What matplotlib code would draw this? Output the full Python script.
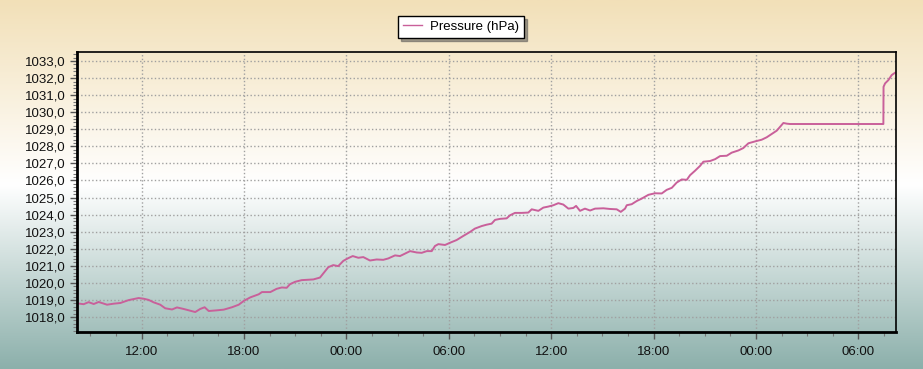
import numpy as np
import matplotlib
matplotlib.use('Agg')
import matplotlib.pyplot as plt
from matplotlib.ticker import MultipleLocator, FixedLocator

# =============================================================================
# Pressure readings, hours counted from midnight of the first day
# =============================================================================
hours = [
    8.21, 8.60, 8.89, 9.19, 9.48, 9.97, 10.36, 10.75, 11.24, 11.82,
    12.12, 12.41, 12.70, 13.09, 13.38, 13.78, 14.07, 14.46, 14.85, 15.14,
    15.43, 15.69, 15.93, 16.41, 16.81, 17.29, 17.69, 17.98, 18.37, 18.86,
    19.05, 19.54, 19.91, 20.21, 20.50, 20.69, 20.99, 21.38, 22.06, 22.45,
    22.64, 22.94, 23.23, 23.52, 23.82, 24.11, 24.37, 24.70, 24.99, 25.38,
    25.77, 26.16, 26.45, 26.85, 27.14, 27.53, 27.73, 28.12, 28.41, 28.71,
    29.00, 29.19, 29.39, 29.78, 30.07, 30.46, 30.85, 31.24, 31.53, 31.93,
    32.22, 32.51, 32.71, 33.00, 33.39, 33.59, 33.88, 34.27, 34.66, 34.86,
    35.25, 35.54, 35.83, 36.13, 36.42, 36.71, 37.01, 37.30, 37.46, 37.69,
    37.98, 38.28, 38.57, 39.06, 39.45, 39.84, 40.08, 40.33, 40.43, 40.72,
    41.02, 41.31, 41.70, 42.09, 42.48, 42.77, 43.07, 43.36, 43.65, 43.95,
    44.14, 44.43, 44.73, 44.92, 45.31, 45.61, 45.90, 46.29, 46.58, 46.97,
    47.26, 47.56, 47.95, 48.34, 48.63, 48.93, 49.22, 49.41, 49.61, 49.81,
    50.00, 55.47, 55.48, 55.57, 55.76, 55.96, 56.15,
]
pressure = [
    1018.80, 1018.75, 1018.87, 1018.76, 1018.88, 1018.72, 1018.78, 1018.82, 1018.99, 1019.11,
    1019.07, 1019.00, 1018.86, 1018.72, 1018.51, 1018.44, 1018.56, 1018.47, 1018.37, 1018.29,
    1018.47, 1018.57, 1018.35, 1018.39, 1018.43, 1018.57, 1018.72, 1018.94, 1019.15, 1019.33,
    1019.46, 1019.46, 1019.65, 1019.73, 1019.71, 1019.92, 1020.06, 1020.16, 1020.20, 1020.31,
    1020.55, 1020.92, 1021.04, 1020.98, 1021.29, 1021.45, 1021.57, 1021.47, 1021.51, 1021.31,
    1021.37, 1021.35, 1021.43, 1021.61, 1021.57, 1021.76, 1021.86, 1021.78, 1021.76, 1021.86,
    1021.86, 1022.16, 1022.27, 1022.22, 1022.35, 1022.51, 1022.75, 1022.98, 1023.18, 1023.33,
    1023.41, 1023.47, 1023.69, 1023.75, 1023.78, 1023.96, 1024.10, 1024.10, 1024.12, 1024.31,
    1024.22, 1024.41, 1024.47, 1024.55, 1024.67, 1024.59, 1024.35, 1024.39, 1024.51, 1024.22,
    1024.35, 1024.24, 1024.35, 1024.37, 1024.33, 1024.31, 1024.16, 1024.35, 1024.55, 1024.61,
    1024.80, 1024.94, 1025.16, 1025.25, 1025.24, 1025.45, 1025.57, 1025.88, 1026.06, 1026.04,
    1026.31, 1026.57, 1026.86, 1027.10, 1027.14, 1027.25, 1027.43, 1027.45, 1027.63, 1027.76,
    1027.90, 1028.18, 1028.29, 1028.39, 1028.53, 1028.73, 1028.92, 1029.14, 1029.37, 1029.33,
    1029.31, 1029.31, 1031.49, 1031.69, 1031.88, 1032.18, 1032.31,
]

x_ticks = [12, 18, 24, 30, 36, 42, 48, 54]
x_labels = ['12:00', '18:00', '00:00', '06:00', '12:00', '18:00', '00:00', '06:00']
y_ticks = list(range(1018, 1034))

plt.rcParams['font.family'] = ['Liberation Sans', 'DejaVu Sans']

fig = plt.figure(figsize=(9.23, 3.69), dpi=100)

# =============================================================================
# Background gradient: tan -> white -> teal
# =============================================================================
bg = fig.add_axes([0, 0, 1, 1], zorder=-1)
stops = np.array([0.0, 0.5, 1.0])
cols = np.array([[242, 224, 184], [255, 255, 255], [140, 176, 171]]) / 255
t = np.linspace(0, 1, 256)
grad = np.stack([np.interp(t, stops, cols[:, k]) for k in range(3)], axis=1)
bg.imshow(grad[:, None, :], aspect='auto', extent=[0, 1, 0, 1])
bg.set_axis_off()

ax = fig.add_axes([77 / 923, 1 - 332 / 369, (896 - 77) / 923, (332 - 52) / 369])
ax.set_facecolor('none')
ax.plot(hours, pressure, color='#c9609a', lw=1.4, label='Pressure (hPa)')

ax.set_xlim(8.21, 56.21)
ax.set_ylim(1017.12, 1033.53)
ax.xaxis.set_major_locator(FixedLocator(x_ticks))
ax.set_xticklabels(x_labels)
ax.xaxis.set_minor_locator(MultipleLocator(1.5))
ax.set_yticks(y_ticks)
ax.set_yticklabels([f'{v},0' for v in y_ticks])
ax.yaxis.set_minor_locator(MultipleLocator(0.2))

ax.tick_params(which='major', length=5, width=1, color='#555555',
               labelsize=9.5, labelcolor='#111111', pad=3)
ax.tick_params(which='minor', length=3, width=0.8, color='#777777')
ax.tick_params(axis='x', which='major', pad=5)

ax.grid(True, which='major', ls=':', color='#a0a0a0', lw=1)

for side in ['left', 'bottom']:
    ax.spines[side].set_linewidth(2)
for side in ['top', 'right']:
    ax.spines[side].set_linewidth(1.2)

leg = fig.legend(loc='center', bbox_to_anchor=(461 / 923, 1 - 27 / 369),
                 fancybox=False, shadow=True, edgecolor='black', framealpha=1,
                 fontsize=9.5, handlelength=1.5, borderpad=0.35,
                 handletextpad=0.6)
leg.get_lines()[0].set_linewidth(1)

fig.savefig('out.png', dpi=100)
